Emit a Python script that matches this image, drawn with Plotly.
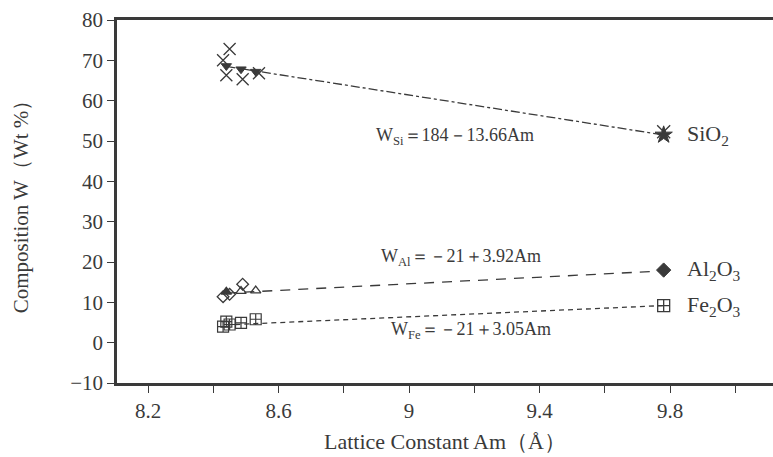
import plotly.graph_objects as go

# ---- data ----
si_x = [8.45, 8.43, 8.44, 8.49, 8.54]
si_y = [72.8, 70.0, 66.3, 65.3, 66.8]
si_sym = ["x-thin-open", "x-thin-open", "x-thin-open", "x-thin-open", "x-thin-open"]
si_tx = [8.44, 8.485, 8.53]
si_ty = [68.6, 67.8, 67.2]
si_end_x = [9.78]
si_end_y = [51.5]

al_x = [8.43, 8.44, 8.45, 8.485, 8.49, 8.53]
al_y = [11.4, 12.6, 12.0, 12.8, 14.5, 12.9]
al_sym = ["diamond-open", "triangle-up", "diamond-open", "triangle-up-open", "diamond-open", "triangle-up-open"]
al_end_x = [9.78]
al_end_y = [18.0]

fe_x = [8.43, 8.44, 8.45, 8.485, 8.53]
fe_y = [4.0, 5.2, 4.5, 4.9, 5.8]
fe_end_x = [9.78]
fe_end_y = [9.2]

# fitted lines (end points as drawn)
fit_x = [8.44, 9.78]
fit_si = [68.5, 51.5]
fit_al = [12.3, 17.8]
fit_fe = [4.4, 9.2]

x_ticks = [8.2, 8.6, 9.0, 9.4, 9.8]
x_labels = ["8.2", "8.6", "9", "9.4", "9.8"]
x_minor = [8.4, 8.8, 9.2, 9.6, 10.0]
y_ticks = [-10, 0, 10, 20, 30, 40, 50, 60, 70, 80]

ink = "#3a3a3a"
font_fam = "Liberation Serif, DejaVu Serif, serif"

fig = go.Figure()

# fitted lines
fig.add_trace(go.Scatter(x=fit_x, y=fit_si, mode="lines",
                         line=dict(color=ink, width=1.3, dash="dashdot"), hoverinfo="skip"))
fig.add_trace(go.Scatter(x=fit_x, y=fit_al, mode="lines",
                         line=dict(color=ink, width=1.3, dash="10px,8px"), hoverinfo="skip"))
fig.add_trace(go.Scatter(x=fit_x, y=fit_fe, mode="lines",
                         line=dict(color=ink, width=1.3, dash="5px,4px"), hoverinfo="skip"))

# SiO2 points
fig.add_trace(go.Scatter(x=si_x, y=si_y, mode="markers",
                         marker=dict(symbol=si_sym, size=12, color=ink, line=dict(color=ink, width=1.3))))
fig.add_trace(go.Scatter(x=si_tx, y=si_ty, mode="markers",
                         marker=dict(symbol="triangle-down", size=9, color=ink, line=dict(color=ink, width=1))))
fig.add_trace(go.Scatter(x=si_end_x, y=si_end_y, mode="markers",
                         marker=dict(symbol="star", size=13, color=ink, line=dict(color=ink, width=1))))
fig.add_trace(go.Scatter(x=si_end_x, y=[si_end_y[0] + 0.8], mode="markers",
                         marker=dict(symbol="x-thin-open", size=13, color=ink, line=dict(color=ink, width=1.3))))

# Al2O3 points
fig.add_trace(go.Scatter(x=al_x, y=al_y, mode="markers",
                         marker=dict(symbol=al_sym, size=9, color=ink, line=dict(color=ink, width=1.3))))
fig.add_trace(go.Scatter(x=al_end_x, y=al_end_y, mode="markers",
                         marker=dict(symbol="diamond", size=11, color=ink, line=dict(color=ink, width=1))))

# Fe2O3 points
fig.add_trace(go.Scatter(x=fe_x, y=fe_y, mode="markers",
                         marker=dict(symbol="square-cross-open", size=11, color=ink, line=dict(color=ink, width=1.2))))
fig.add_trace(go.Scatter(x=fe_end_x, y=fe_end_y, mode="markers",
                         marker=dict(symbol="square-cross-open", size=12, color=ink, line=dict(color=ink, width=1.3))))

anns = [
    dict(x=9.14, y=51.0, text="W<sub>Si</sub>＝184－13.66Am"),
    dict(x=9.16, y=21.0, text="W<sub>Al</sub>＝－21＋3.92Am"),
    dict(x=9.19, y=2.9, text="W<sub>Fe</sub>＝－21＋3.05Am"),
]
for a in anns:
    fig.add_annotation(x=a["x"], y=a["y"], text=a["text"], showarrow=False,
                       font=dict(family=font_fam, size=18, color=ink))

labels = [
    dict(y=51.5, text="SiO<sub>2</sub>"),
    dict(y=18.0, text="Al<sub>2</sub>O<sub>3</sub>"),
    dict(y=9.2, text="Fe<sub>2</sub>O<sub>3</sub>"),
]
for l in labels:
    fig.add_annotation(x=9.845, y=l["y"], text=l["text"], showarrow=False, xanchor="left",
                       font=dict(family=font_fam, size=22, color=ink))

fig.update_layout(
    width=773, height=457,
    margin=dict(l=117, r=0, t=20, b=74),
    paper_bgcolor="white", plot_bgcolor="white",
    showlegend=False,
    font=dict(family=font_fam, color=ink),
    xaxis=dict(range=[8.105, 10.115], tickvals=x_ticks, ticktext=x_labels,
               ticks="outside", ticklen=7, tickwidth=1, tickcolor=ink,
               minor=dict(tickvals=x_minor, ticks="outside", ticklen=7, tickwidth=1,
                          tickcolor=ink, showgrid=False),
               showline=True, linewidth=2.5, linecolor=ink, mirror=True,
               showgrid=False, zeroline=False,
               tickfont=dict(size=21, color=ink),
               title=dict(text="Lattice Constant Am（Å）", font=dict(size=22, color=ink), standoff=12)),
    yaxis=dict(range=[-10, 80], tickvals=y_ticks,
               ticks="outside", ticklen=7, tickwidth=1, tickcolor=ink,
               showline=True, linewidth=2.5, linecolor=ink,
               showgrid=False, zeroline=False,
               tickfont=dict(size=21, color=ink),
               title=dict(text="Composition W（Wt %）", font=dict(size=21, color=ink), standoff=36)),
)

fig.write_html("out.html")
